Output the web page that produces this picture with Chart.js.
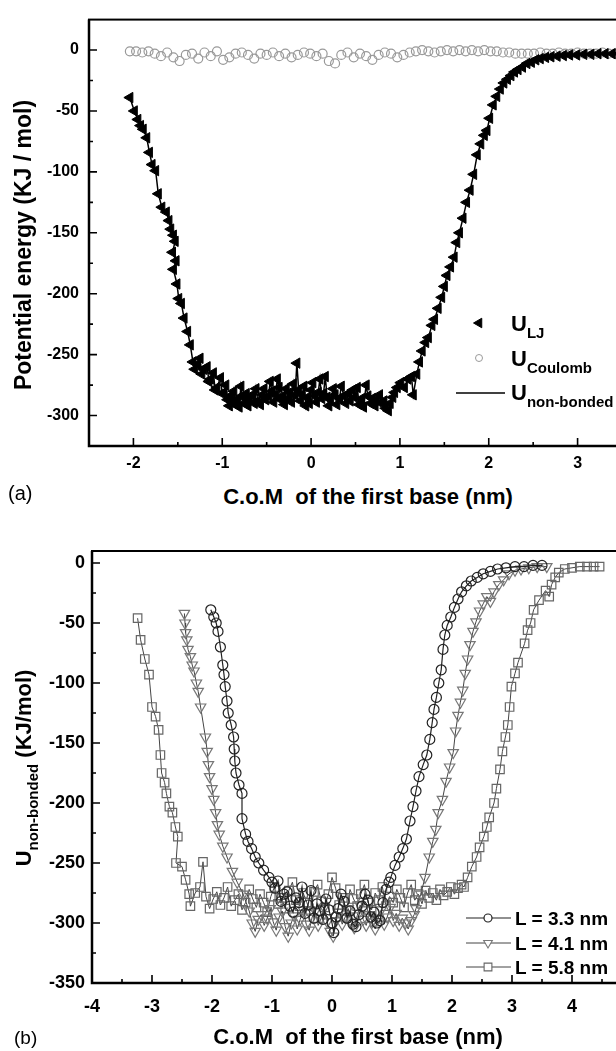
<!DOCTYPE html>
<html>
<head>
<meta charset="utf-8">
<script src="https://cdn.jsdelivr.net/npm/chart.js@4.4.0/dist/chart.umd.min.js"></script>
<style>
  html, body { margin: 0; padding: 0; background: #fff; overflow: hidden; width: 616px; height: 1051px; }
  body { position: relative; font-family: "Liberation Sans", Arial, sans-serif; color: #000; }
  canvas { position: absolute; left: 0; }
  .t { position: absolute; white-space: nowrap; line-height: 1; font-weight: bold; }
  .t sub { font-size: 15px; vertical-align: baseline; position: relative; top: 7px; }
  .rot { transform: translate(-50%, -50%) rotate(-90deg); }
  .mid { transform: translateX(-50%); }
</style>
</head>
<body>
<canvas id="chartA" width="660" height="480" style="top:0px"></canvas>
<canvas id="chartB" width="660" height="520" style="top:520px"></canvas>

<!-- panel (a) texts -->
<div class="t rot" style="left:23px;top:245px;font-size:23px">Potential energy (KJ / mol)</div>
<div class="t mid" style="left:368px;top:486px;font-size:22px">C.o.M&nbsp; of the first base (nm)</div>
<div class="t" style="left:8px;top:483px;font-size:20px;font-weight:normal">(a)</div>
<div class="t" style="left:511px;top:313px;font-size:22px">U<sub>LJ</sub></div>
<div class="t" style="left:511px;top:348px;font-size:22px">U<sub>Coulomb</sub></div>
<div class="t" style="left:511px;top:382px;font-size:22px">U<sub>non-bonded</sub></div>

<!-- panel (b) texts -->
<div class="t rot" style="left:24px;top:768px;font-size:22px">U<sub>non-bonded</sub> (KJ/mol)</div>
<div class="t mid" style="left:358px;top:1026px;font-size:22px">C.o.M&nbsp; of the first base (nm)</div>
<div class="t" style="left:14px;top:1028px;font-size:19px;font-weight:normal">(b)</div>
<div class="t" style="left:515px;top:909px;font-size:19px">L = 3.3 nm</div>
<div class="t" style="left:515px;top:934px;font-size:19px">L = 4.1 nm</div>
<div class="t" style="left:515px;top:958px;font-size:19px">L = 5.8 nm</div>

<script>
// ---- panel (a): potential energy vs C.o.M position ----
const comX = [-2.04,-1.99,-1.95,-1.92,-1.89,-1.85,-1.82,-1.79,-1.75,-1.72,
    -1.68,-1.63,-1.60,-1.58,-1.55,-1.53,-1.56,-1.52,-1.55,-1.51,
    -1.49,-1.46,-1.43,-1.39,-1.36,-1.33,-1.31,-1.28,-1.25,-1.23,
    -1.21,-1.17,-1.15,-1.13,-1.10,-1.08,-1.06,-1.02,-1.00,-0.98,
    -0.96,-0.94,-0.92,-0.91,-0.89,-0.87,-0.85,-0.83,-0.81,-0.79,
    -0.77,-0.75,-0.73,-0.71,-0.69,-0.66,-0.64,-0.62,-0.60,-0.57,
    -0.55,-0.53,-0.51,-0.48,-0.46,-0.44,-0.42,-0.40,-0.38,-0.36,
    -0.34,-0.32,-0.30,-0.28,-0.26,-0.24,-0.22,-0.20,-0.18,-0.16,
    -0.14,-0.12,-0.10,-0.08,-0.06,-0.04,-0.02,0.00,0.02,0.04,
    0.06,0.08,0.10,0.12,0.14,0.16,0.18,0.20,0.22,0.25,
    0.27,0.29,0.32,0.34,0.37,0.39,0.42,0.44,0.47,0.49,
    0.52,0.54,0.57,0.59,0.62,0.64,0.67,0.69,0.72,0.74,
    0.77,0.79,0.82,0.84,0.87,0.89,0.92,0.94,0.97,1.01,
    1.05,1.09,1.13,1.15,1.19,1.22,1.25,1.29,1.32,1.36,
    1.39,1.43,1.47,1.50,1.53,1.57,1.61,1.64,1.67,1.71,
    1.75,1.79,1.83,1.87,1.91,1.95,1.98,2.01,2.05,2.09,
    2.13,2.17,2.21,2.25,2.29,2.33,2.38,2.43,2.48,2.53,
    2.58,2.64,2.70,2.77,2.84,2.91,2.99,3.07,3.15,3.23,
    3.31,3.39,3.47];
const uLJ = [-39,-50,-57,-62,-65,-72,-84,-94,-99,-118,
    -129,-133,-140,-147,-152,-157,-166,-173,-180,-192,
    -204,-208,-220,-231,-242,-256,-262,-258,-253,-266,
    -262,-260,-272,-270,-265,-279,-277,-269,-282,-281,
    -275,-287,-292,-284,-289,-280,-291,-286,-293,-276,
    -285,-290,-282,-292,-287,-283,-290,-278,-288,-291,
    -283,-278,-287,-284,-272,-280,-289,-283,-270,-277,
    -287,-284,-291,-278,-286,-281,-289,-274,-283,-257,
    -279,-288,-283,-276,-292,-285,-290,-279,-273,-284,
    -289,-281,-270,-286,-282,-268,-285,-292,-287,-278,
    -283,-291,-286,-276,-284,-290,-282,-288,-279,-285,
    -277,-291,-286,-293,-275,-284,-290,-286,-292,-287,
    -283,-290,-288,-294,-296,-290,-285,-281,-277,-273,
    -277,-270,-268,-283,-266,-256,-247,-240,-236,-226,
    -221,-212,-203,-194,-185,-178,-170,-158,-150,-138,
    -125,-115,-102,-86,-77,-70,-66,-56,-45,-38,
    -32,-27,-24,-21,-18,-16,-14,-11,-10,-8,
    -7,-6,-5.5,-5,-4.5,-4,-4,-3.5,-3.5,-3,
    -3,-3,-3];
const coulombX = [-2.04,-1.97,-1.90,-1.83,-1.76,-1.69,-1.62,-1.55,-1.48,-1.41,-1.34,-1.27,-1.20,-1.13,-1.06,-0.99,-0.92,-0.85,-0.78,-0.71,
    -0.64,-0.57,-0.50,-0.43,-0.36,-0.29,-0.22,-0.15,-0.08,-0.01,0.06,0.13,0.20,0.27,0.34,0.41,0.48,0.55,0.62,0.69,
    0.76,0.83,0.90,0.97,1.04,1.11,1.18,1.25,1.32,1.39,1.46,1.53,1.60,1.67,1.74,1.81,1.88,1.95,2.02,2.09,
    2.16,2.23,2.30,2.37,2.44,2.51,2.58,2.65,2.72,2.79,2.86,2.93,3.00,3.07,3.14,3.21,3.28,3.35,3.42];
const uCoulomb = [-1,-1,-2,-1,-3,-5,-2,-6,-9,-4,-3,-7,-2,-5,-1,-8,-6,-3,-2,-4,
    -7,-3,-4,-2,-5,-3,-6,-4,-2,-3,-5,-3,-9,-11,-4,-2,-6,-3,-5,-8,
    -4,-2,-3,-6,-4,-2,-1,0,-1,-2,-1,0,-1,0,-1,0,-1,0,-1,-1,
    -2,-2,-3,-3,-3,-3,-2,-3,-3,-2,-3,-3,-2,-3,-3,-3,-2,-3,-3];
const xTicksA = [-2, -1, 0, 1, 2, 3];
const xMinorA = [-1.5, -0.5, 0.5, 1.5, 2.5];
const yTicksA = [-300, -250, -200, -150, -100, -50, 0];
const yMinorA = [-275, -225, -175, -125, -75, -25];

// ---- panel (b): U non-bonded for three box lengths ----
const l33X = [-2.02,-1.97,-1.93,-1.90,-1.86,-1.82,-1.80,-1.78,-1.75,-1.73,
    -1.68,-1.64,-1.63,-1.62,-1.60,-1.55,-1.50,-1.50,-1.44,-1.40,
    -1.34,-1.28,-1.22,-1.14,-1.05,-1.00,-0.95,-0.90,-0.85,-0.80,
    -0.75,-0.70,-0.65,-0.60,-0.55,-0.50,-0.45,-0.40,-0.35,-0.30,
    -0.25,-0.20,-0.15,-0.10,-0.05,0.00,0.03,0.07,0.10,0.15,
    0.20,0.25,0.30,0.35,0.40,0.45,0.50,0.55,0.60,0.65,
    0.70,0.75,0.80,0.85,0.90,0.95,0.98,1.05,1.12,1.18,
    1.24,1.30,1.35,1.40,1.45,1.52,1.58,1.63,1.67,1.70,
    1.74,1.78,1.82,1.85,1.88,1.92,1.98,2.04,2.10,2.16,
    2.24,2.32,2.42,2.52,2.64,2.76,2.90,3.05,3.20,3.35,3.50];
const l33U = [-39,-45,-50,-57,-70,-85,-93,-103,-115,-125,
    -135,-145,-155,-165,-175,-185,-192,-213,-226,-232,
    -238,-245,-250,-256,-262,-266,-271,-265,-282,-276,
    -274,-286,-291,-279,-283,-270,-292,-285,-273,-296,
    -284,-290,-297,-280,-289,-300,-308,-295,-288,-276,
    -282,-296,-290,-301,-303,-293,-286,-276,-281,-295,
    -291,-300,-298,-283,-272,-266,-262,-252,-245,-238,
    -230,-215,-203,-190,-178,-168,-160,-147,-133,-122,
    -112,-100,-89,-72,-60,-52,-45,-37,-30,-24,
    -19,-15,-12,-9,-7,-5,-4,-3,-3,-2,-2];
const l41X = [-2.46,-2.45,-2.44,-2.42,-2.40,-2.36,-2.33,-2.30,-2.26,-2.23,
    -2.19,-2.11,-2.08,-2.06,-2.04,-2.00,-1.97,-1.94,-1.91,-1.88,
    -1.82,-1.75,-1.66,-1.58,-1.48,-1.38,-1.33,-1.28,-1.23,-1.18,
    -1.13,-1.08,-1.03,-0.98,-0.93,-0.88,-0.83,-0.78,-0.73,-0.68,
    -0.63,-0.58,-0.53,-0.48,-0.43,-0.38,-0.33,-0.28,-0.23,-0.18,
    -0.13,-0.08,-0.03,0.02,0.07,0.12,0.17,0.22,0.27,0.32,
    0.37,0.42,0.47,0.52,0.57,0.62,0.67,0.72,0.77,0.82,
    0.87,0.92,0.97,1.02,1.07,1.12,1.17,1.22,1.27,1.32,
    1.37,1.40,1.48,1.55,1.62,1.68,1.73,1.77,1.84,1.90,
    1.96,2.02,2.06,2.10,2.14,2.18,2.22,2.26,2.30,2.35,
    2.40,2.46,2.52,2.58,2.64,2.70,2.78,2.86,2.95,3.05,
    3.15,3.28,3.42,3.58];
const l41U = [-42,-50,-58,-64,-72,-78,-85,-90,-100,-107,
    -120,-145,-157,-168,-178,-188,-197,-208,-218,-226,
    -236,-245,-257,-266,-276,-290,-300,-307,-297,-293,
    -302,-296,-288,-299,-306,-295,-290,-303,-311,-300,
    -294,-305,-297,-289,-301,-306,-295,-290,-302,-296,
    -287,-299,-307,-311,-298,-291,-301,-295,-288,-300,
    -304,-294,-285,-297,-302,-293,-299,-305,-296,-289,
    -301,-295,-287,-298,-292,-302,-296,-300,-305,-298,
    -293,-288,-276,-262,-245,-232,-222,-208,-197,-182,
    -170,-158,-140,-127,-116,-106,-92,-80,-68,-57,
    -49,-40,-34,-28,-32,-24,-18,-14,-9,-6,
    -5,-4,-3,-3];
const l58X = [-3.24,-3.19,-3.12,-3.05,-3.00,-2.94,-2.89,-2.86,-2.84,-2.79,
    -2.76,-2.71,-2.66,-2.61,-2.57,-2.60,-2.50,-2.44,-2.38,-2.36,
    -2.28,-2.20,-2.15,-2.10,-2.04,-1.98,-1.92,-1.86,-1.80,-1.74,
    -1.68,-1.62,-1.56,-1.50,-1.44,-1.38,-1.32,-1.26,-1.20,-1.14,
    -1.08,-1.02,-0.96,-0.90,-0.84,-0.78,-0.72,-0.66,-0.60,-0.54,
    -0.48,-0.42,-0.36,-0.30,-0.24,-0.18,-0.12,-0.06,0.00,0.06,
    0.12,0.18,0.24,0.30,0.36,0.42,0.48,0.54,0.60,0.66,
    0.72,0.78,0.84,0.90,0.96,1.02,1.08,1.14,1.20,1.26,
    1.32,1.38,1.44,1.50,1.56,1.62,1.68,1.74,1.80,1.86,
    1.92,1.98,2.04,2.10,2.16,2.20,2.26,2.33,2.41,2.46,
    2.53,2.58,2.62,2.70,2.74,2.80,2.84,2.89,2.93,2.96,
    2.99,3.05,3.10,3.21,3.26,3.31,3.36,3.45,3.56,3.62,
    3.66,3.72,3.78,3.88,4.00,4.13,4.25,4.36,4.46];
const l58U = [-46,-64,-80,-93,-120,-128,-139,-160,-175,-183,
    -192,-203,-208,-220,-228,-250,-253,-264,-276,-286,
    -275,-270,-249,-278,-288,-280,-274,-285,-279,-270,
    -286,-281,-276,-289,-283,-272,-280,-287,-276,-283,
    -291,-278,-270,-284,-279,-288,-273,-266,-281,-286,
    -275,-283,-290,-274,-268,-282,-287,-276,-262,-271,
    -285,-279,-290,-272,-280,-286,-276,-268,-283,-289,
    -275,-281,-270,-286,-278,-283,-272,-279,-287,-275,
    -268,-281,-276,-284,-273,-279,-275,-281,-272,-277,
    -274,-270,-276,-271,-268,-270,-262,-253,-245,-237,
    -228,-220,-212,-200,-188,-172,-157,-145,-135,-120,
    -103,-92,-83,-67,-56,-50,-39,-31,-23,-28,
    -18,-12,-8,-5,-4,-3,-3,-3,-3];
const xTicksB = [-4, -3, -2, -1, 0, 1, 2, 3, 4, 5];
const xMinorB = [-3.5, -2.5, -1.5, -0.5, 0.5, 1.5, 2.5, 3.5, 4.5];
const yTicksB = [-350, -300, -250, -200, -150, -100, -50, 0];
const yMinorB = [-325, -275, -225, -175, -125, -75, -25];

Chart.defaults.font.family = '"Liberation Sans", Arial, sans-serif';
Chart.defaults.color = '#000';

function pts(xs, ys) {
    return xs.map((x, i) => ({ x: x, y: ys[i] }));
}

// box round the plot + inward tick marks
const framePlugin = {
    id: 'frame',
    afterDraw(chart, args, opts) {
        const ctx = chart.ctx, a = chart.chartArea;
        const xs = chart.scales.x, ys = chart.scales.y;
        ctx.save();
        ctx.strokeStyle = '#000';
        ctx.lineWidth = 2;
        ctx.strokeRect(a.left, a.top, a.right - a.left, a.bottom - a.top);
        ctx.lineWidth = 2.5;
        ctx.beginPath();
        ctx.moveTo(a.left, a.top);
        ctx.lineTo(a.left, a.bottom);
        ctx.lineTo(a.right, a.bottom);
        ctx.stroke();
        ctx.lineWidth = 1.6;
        ctx.beginPath();
        opts.xMajor.forEach(v => { const p = xs.getPixelForValue(v); ctx.moveTo(p, a.bottom); ctx.lineTo(p, a.bottom - 8); });
        opts.xMinor.forEach(v => { const p = xs.getPixelForValue(v); ctx.moveTo(p, a.bottom); ctx.lineTo(p, a.bottom - 4); });
        opts.yMajor.forEach(v => { const p = ys.getPixelForValue(v); ctx.moveTo(a.left, p); ctx.lineTo(a.left + 8, p); });
        opts.yMinor.forEach(v => { const p = ys.getPixelForValue(v); ctx.moveTo(a.left, p); ctx.lineTo(a.left + 4, p); });
        ctx.stroke();
        ctx.restore();
    }
};

// legend symbols (texts are html)
const keyPlugin = {
    id: 'keys',
    afterDraw(chart, args, opts) {
        const ctx = chart.ctx;
        ctx.save();
        opts.items.forEach(it => {
            if (it.line) {
                ctx.strokeStyle = it.color;
                ctx.lineWidth = it.lineWidth;
                ctx.beginPath();
                ctx.moveTo(it.line[0], it.y);
                ctx.lineTo(it.line[1], it.y);
                ctx.stroke();
            }
            if (it.point) {
                ctx.fillStyle = it.point.fill;
                ctx.strokeStyle = it.point.stroke;
                ctx.lineWidth = it.point.borderWidth;
                Chart.helpers.drawPoint(ctx, it.point, it.x, it.y);
            }
        });
        ctx.restore();
    }
};

function axis(min, max, ticks, size, pad, fit, isX) {
    return {
        type: 'linear',
        min: min,
        max: max,
        grid: { display: false, drawTicks: false },
        border: { display: false },
        ticks: { font: { size: size, weight: 'bold' }, color: '#000', padding: pad, maxRotation: 0, autoSkip: false,
            callback: v => String(v) },
        afterBuildTicks: s => { s.ticks = ticks.map(v => ({ value: v })); },
        afterFit: s => { if (isX) { s.height = fit; } else { s.width = fit; } }
    };
}

const chartA = new Chart(document.getElementById('chartA'), {
    type: 'scatter',
    data: {
        datasets: [
            {
                label: 'U LJ',
                data: pts(comX, uLJ),
                showLine: false,
                pointStyle: 'triangle',
                pointRotation: -90,
                pointRadius: 6,
                pointBackgroundColor: '#000',
                pointBorderColor: '#000',
                pointBorderWidth: 1,
                order: 1
            },
            {
                label: 'U Coulomb',
                data: pts(coulombX, uCoulomb),
                showLine: false,
                pointStyle: 'circle',
                pointRadius: 4.5,
                pointBackgroundColor: 'rgba(255,255,255,0)',
                pointBorderColor: '#999',
                pointBorderWidth: 1.2,
                order: 3
            },
            {
                label: 'U non-bonded',
                data: pts(comX, uLJ),
                showLine: true,
                pointRadius: 0,
                borderColor: '#000',
                borderWidth: 1.5,
                tension: 0,
                order: 2
            }
        ]
    },
    options: {
        responsive: false,
        animation: false,
        layout: { padding: { top: 13, right: 38, left: 0, bottom: 0 } },
        scales: {
            x: axis(-2.5, 3.5, xTicksA, 16, 8, 34, true),
            y: axis(-325, 25, yTicksA, 16, 10, 89, false)
        },
        plugins: {
            legend: { display: false },
            tooltip: { enabled: false },
            frame: { xMajor: xTicksA, xMinor: xMinorA, yMajor: yTicksA, yMinor: yMinorA },
            keys: {
                items: [
                    { x: 479, y: 323, point: { pointStyle: 'triangle', rotation: -90, radius: 5.5, borderWidth: 1, fill: '#000', stroke: '#000' } },
                    { x: 479, y: 358, point: { pointStyle: 'circle', rotation: 0, radius: 3.5, borderWidth: 1, fill: 'rgba(255,255,255,0)', stroke: '#9a9a9a' } },
                    { y: 393, line: [456, 505], color: '#000', lineWidth: 1.5 }
                ]
            }
        }
    },
    plugins: [framePlugin, keyPlugin]
});

const chartB = new Chart(document.getElementById('chartB'), {
    type: 'scatter',
    data: {
        datasets: [
            {
                label: 'L = 3.3 nm',
                data: pts(l33X, l33U),
                showLine: true,
                borderColor: '#222',
                borderWidth: 1.2,
                tension: 0,
                pointStyle: 'circle',
                pointRadius: 5,
                pointBackgroundColor: 'rgba(255,255,255,0)',
                pointBorderColor: '#222',
                pointBorderWidth: 1.2
            },
            {
                label: 'L = 4.1 nm',
                data: pts(l41X, l41U),
                showLine: true,
                borderColor: '#444',
                borderWidth: 1,
                tension: 0,
                pointStyle: 'triangle',
                pointRotation: 180,
                pointRadius: 6,
                pointBackgroundColor: 'rgba(255,255,255,0)',
                pointBorderColor: '#777',
                pointBorderWidth: 1.2
            },
            {
                label: 'L = 5.8 nm',
                data: pts(l58X, l58U),
                showLine: true,
                borderColor: '#444',
                borderWidth: 1,
                tension: 0,
                pointStyle: 'rect',
                pointRadius: 6,
                pointBackgroundColor: 'rgba(255,255,255,0)',
                pointBorderColor: '#666',
                pointBorderWidth: 1.2
            }
        ]
    },
    options: {
        responsive: false,
        animation: false,
        layout: { padding: { top: 31, right: 28, left: 0, bottom: 0 } },
        scales: {
            x: axis(-4, 5, xTicksB, 18, 13, 57, true),
            y: axis(-350, 10, yTicksB, 18, 7, 92, false)
        },
        plugins: {
            legend: { display: false },
            tooltip: { enabled: false },
            frame: { xMajor: xTicksB, xMinor: xMinorB, yMajor: yTicksB, yMinor: yMinorB },
            keys: {
                items: [
                    { x: 488, y: 398, line: [466, 511], color: '#222', lineWidth: 1.2,
                      point: { pointStyle: 'circle', rotation: 0, radius: 4, borderWidth: 1.2, fill: '#fff', stroke: '#222' } },
                    { x: 488, y: 423, line: [466, 511], color: '#444', lineWidth: 1,
                      point: { pointStyle: 'triangle', rotation: 180, radius: 5, borderWidth: 1.1, fill: '#fff', stroke: '#777' } },
                    { x: 488, y: 447, line: [466, 511], color: '#444', lineWidth: 1,
                      point: { pointStyle: 'rect', rotation: 0, radius: 5.5, borderWidth: 1.1, fill: '#fff', stroke: '#666' } }
                ]
            }
        }
    },
    plugins: [framePlugin, keyPlugin]
});
</script>
</body>
</html>
